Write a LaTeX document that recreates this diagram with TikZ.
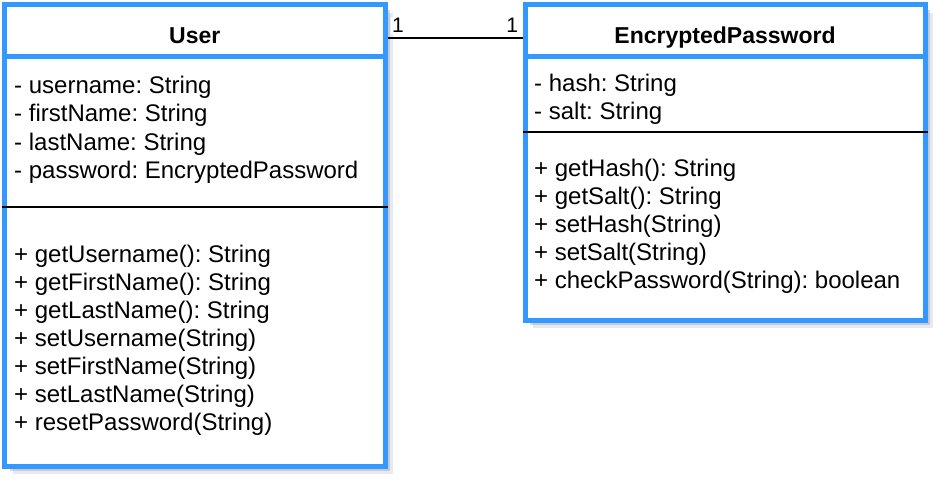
\documentclass[tikz,border=0pt]{standalone}
\usepackage{fontspec}
\setmainfont{Liberation Sans}
\usepackage{tikz}
\usetikzlibrary{shadows}

\definecolor{umlblue}{HTML}{3399FF}
\definecolor{shadowgray}{HTML}{8A8FA8}
\frenchspacing

\tikzset{
  classbox/.style={draw=umlblue, line width=5pt, fill=white, rectangle, inner sep=0pt,
    drop shadow={shadow xshift=8pt, shadow yshift=-8pt, fill=shadowgray, opacity=0.2},
    drop shadow={shadow xshift=5pt, shadow yshift=-5pt, fill=shadowgray, opacity=0.35}},
  headline/.style={draw=umlblue, line width=5pt},
  divider/.style={draw=black, line width=2pt},
  classname/.style={anchor=base, inner sep=0pt, text height=17pt, text depth=5pt,
    font=\fontsize{23}{26}\selectfont\bfseries},
  member/.style={anchor=base west, inner sep=0pt, font=\fontsize{24}{28}\selectfont},
  mult/.style={fill=white, inner sep=1.5pt, font=\fontsize{21}{21}\selectfont}
}

\begin{document}
\begin{tikzpicture}[x=1pt, y=-1pt]
\useasboundingbox (0,0) rectangle (942,484);

% the two classes
\node[classbox, minimum width=380.5pt, minimum height=461pt] (user) at (194.75, 235.5) {};
\node[classbox, minimum width=400pt, minimum height=315pt] (enc) at (725, 162.5) {};

\draw[headline] (user.west |- 0,57) -- (user.east |- 0,57);
\draw[headline] (enc.west |- 0,57) -- (enc.east |- 0,57);
\draw[divider] (user.west |- 0,206.5) -- (user.east |- 0,206.5);
\draw[divider] (enc.west |- 0,132) -- (enc.east |- 0,132);

\node[classname] (usertitle) at (194.75, 44) {User};
\node[classname] (enctitle) at (725, 44) {EncryptedPassword};

% User members
\node[member] (uattr1) at (14, 94) {- username: String};
\node[member] (uattr2) at (14, 122) {- firstName: String};
\node[member] (uattr3) at (14, 150) {- lastName: String};
\node[member] (uattr4) at (14, 178) {- password: EncryptedPassword};

\node[member] (uop1) at (14, 262) {+ getUsername(): String};
\node[member] (uop2) at (14, 290) {+ getFirstName(): String};
\node[member] (uop3) at (14, 318) {+ getLastName(): String};
\node[member] (uop4) at (14, 346) {+ setUsername(String)};
\node[member] (uop5) at (14, 374) {+ setFirstName(String)};
\node[member] (uop6) at (14, 402) {+ setLastName(String)};
\node[member] (uop7) at (14, 430) {+ resetPassword(String)};

% EncryptedPassword members
\node[member] (eattr1) at (534, 92) {- hash: String};
\node[member] (eattr2) at (534, 120) {- salt: String};

\node[member] (eop1) at (534, 176) {+ getHash(): String};
\node[member] (eop2) at (534, 204) {+ getSalt(): String};
\node[member] (eop3) at (534, 232) {+ setHash(String)};
\node[member] (eop4) at (534, 260) {+ setSalt(String)};
\node[member] (eop5) at (534, 288) {+ checkPassword(String): boolean};

% association
\draw[line width=2pt] (usertitle -| user.east) -- (enctitle -| enc.west)
  node[pos=0, mult, anchor=south west, xshift=2pt, yshift=3pt] (umult) {1}
  node[pos=1, mult, anchor=south east, xshift=-2pt, yshift=3pt] (emult) {1};
\end{tikzpicture}
\end{document}
